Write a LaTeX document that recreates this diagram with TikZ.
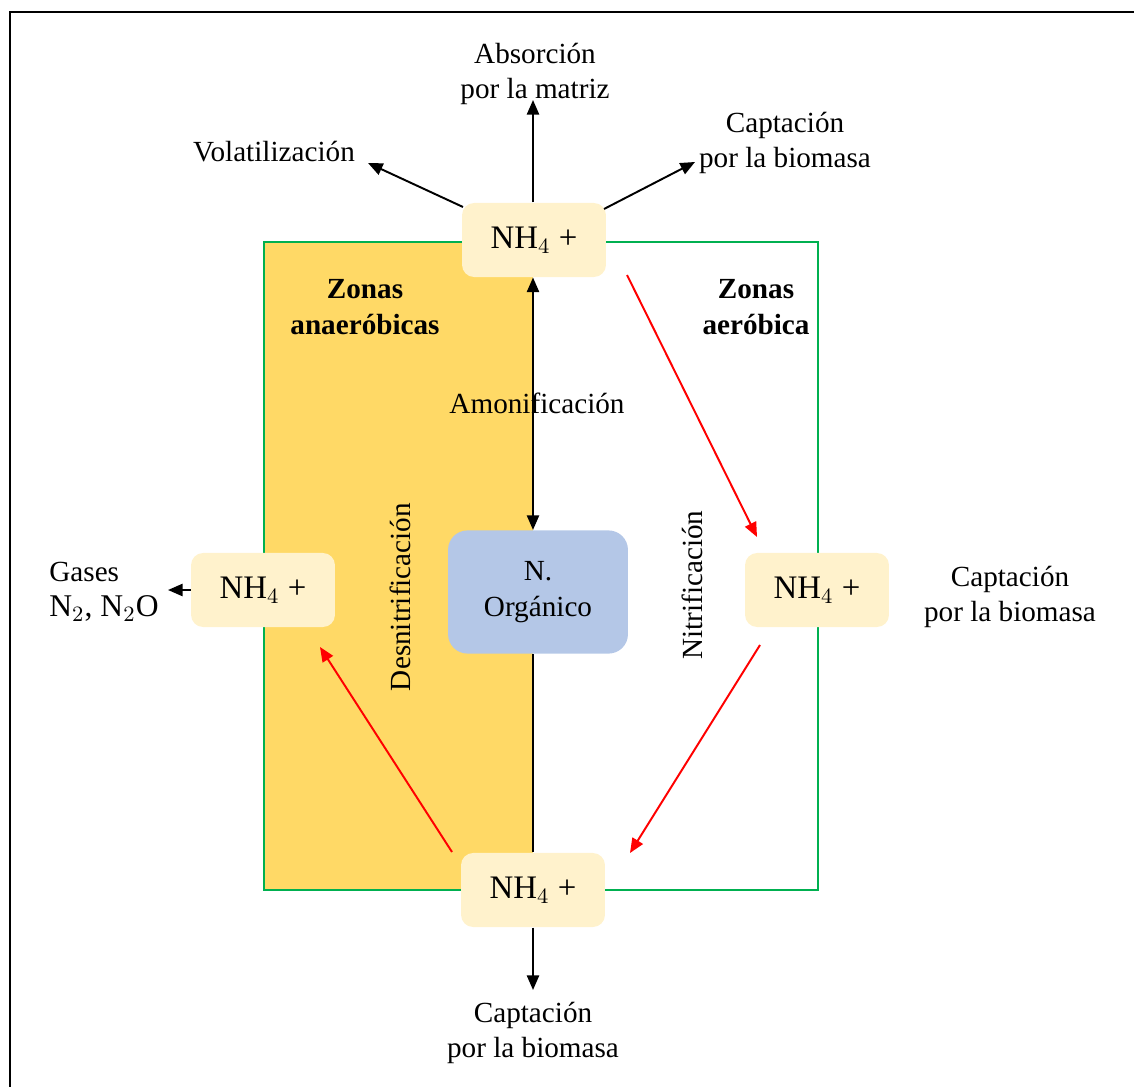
\documentclass[tikz,border=0pt]{standalone}
\usepackage{fontspec}
\setmainfont{Liberation Serif}
\usepackage{xcolor}
\usetikzlibrary{calc,positioning,arrows.meta,shapes}

\definecolor{nhfill}{HTML}{FFF2CC}
\definecolor{orgfill}{HTML}{B4C7E7}
\definecolor{anaerfill}{HTML}{FFD966}
\definecolor{zonegreen}{HTML}{00B050}

\tikzset{
    nhbox/.style={fill=nhfill, rounded corners=5pt, minimum width=2.08cm, minimum height=1.07cm, inner sep=0pt, font=\fontsize{13.5}{15}\selectfont},
    orgbox/.style={fill=orgfill, rounded corners=8pt, minimum width=2.6cm, minimum height=1.78cm, align=center, inner sep=0pt},
    lbl/.style={align=center, inner sep=1pt},
    arr/.style={-{Triangle[length=6pt,width=5pt]}, line width=0.8pt},
    redarr/.style={-{Triangle[length=6pt,width=5pt]}, line width=0.8pt, red}
}

\newcommand{\nhf}{NH$_4$ +}

\begin{document}
\begin{tikzpicture}[x=0.01445cm, y=-0.01445cm, font=\fontsize{12}{14.6}\selectfont]
        \useasboundingbox (0, 0) rectangle (1134, 1086);
        \draw[line width=0.8pt](10, 1200) -- (10, 12) -- (1200, 12);

        %%zones
        \fill[anaerfill](264, 243) rectangle (533, 890);
        \draw[zonegreen, line width=0.7pt](264, 242) rectangle (818, 890);

        \node[lbl, font=\fontsize{12}{14.6}\selectfont\bfseries] (zanaer) at (365, 307){Zonas\\anaeróbicas};
        \node[lbl, font=\fontsize{12}{14.6}\selectfont\bfseries] (zaer) at (756, 307){Zonas\\aeróbica};

        %%boxes
        \node[nhbox] (nhtop) at (534, 240){\nhf};
        \node[nhbox] (nhleft) at (263, 590){\nhf};
        \node[nhbox] (nhright) at (817, 590){\nhf};
        \node[nhbox] (nhbot) at (533, 890){\nhf};
        \node[orgbox] (org) at (538, 592){N.\\Orgánico};

        %%labels
        \node[lbl] (absorb) at (535, 74){Absorción\\por la matriz};
        \node[lbl] (volat) at (274, 152){Volatilización};
        \node[lbl] (captop) at (785, 143){Captación\\por la biomasa};
        \node[lbl] (amon) at (537, 403){Amonificación};
        \node[lbl, rotate=90] (desn) at (400, 597){Desnitrificación};
        \node[lbl, rotate=90] (nitr) at (692, 585){Nitrificación};
        \node[lbl, align=left] (gases) at (104, 592){Gases\\{\fontsize{13}{15}\selectfont N$_2$, N$_2$O}};
        \node[lbl] (capright) at (1010, 597){Captación\\por la biomasa};
        \node[lbl] (capbot) at (533, 1033){Captación\\por la biomasa};

        \coordinate (absend) at (533, 100);
        \coordinate (volstart) at (463, 207);
        \coordinate (volend) at (368, 163);
        \coordinate (capstart) at (604, 209);
        \coordinate (capend) at (695, 162);
        \coordinate (botend) at (533, 990);
        \coordinate (gasend) at (168, 590);

        %%arrows
        \draw[arr](nhtop.north -| absend) -- (absend);
        \draw[arr](volstart) -- (volend);
        \draw[arr](capstart) -- (capend);
        \draw[{Triangle[length=6pt,width=5pt]}-{Triangle[length=6pt,width=5pt]}, line width=0.8pt]
            (nhtop.south -| absend) -- (org.north -| absend);
        \draw[line width=0.8pt](org.south -| absend) -- (nhbot.north -| absend);
        \draw[arr](nhbot.south -| absend) -- (botend);
        \draw[arr](nhleft.west) -- (gasend);

        %%red
        \coordinate (n1) at (627, 275);
        \coordinate (n2) at (757, 537);
        \coordinate (n3) at (760, 645);
        \coordinate (n4) at (630, 853);
        \coordinate (d1) at (452, 852);
        \coordinate (d2) at (320, 647);
        \draw[redarr](n1) -- (n2);
        \draw[redarr](n3) -- (n4);
        \draw[redarr](d1) -- (d2);

\end{tikzpicture}
\end{document}
